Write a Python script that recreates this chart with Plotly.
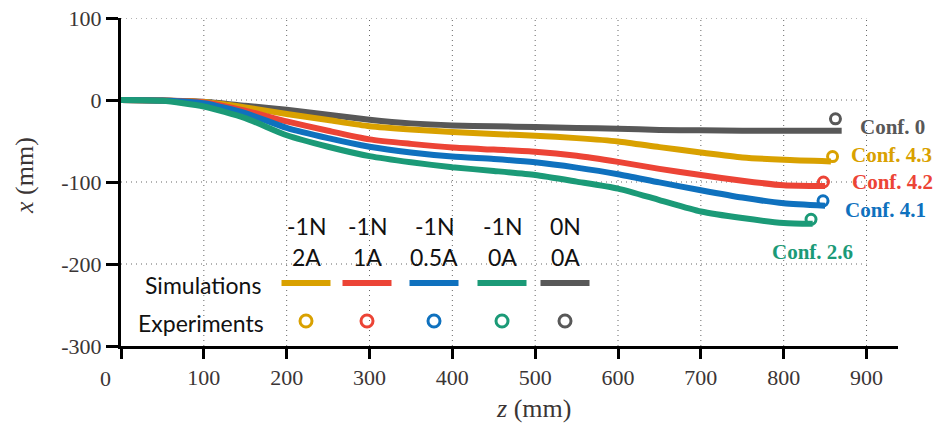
import plotly.graph_objects as go

# ---------------- data ----------------
z_grid = [0, 50, 100, 150, 200, 250, 300, 350, 400, 450, 500, 550, 600, 650, 700, 750, 800]

sim_gray_z = z_grid + [870]
sim_gray_x = [0, -0.5, -2, -7, -12, -18, -24, -28.5, -31, -32, -33, -34, -35, -36.5, -37, -37.5, -37.5, -37.5]

sim_gold_z = z_grid + [857]
sim_gold_x = [0, -0.5, -2.5, -9, -17, -24.5, -32, -36, -39, -41.5, -43.5, -46.5, -50.5, -57.5, -64, -70, -73, -75]

sim_red_z = z_grid + [850]
sim_red_x = [0, -0.5, -3, -13, -26, -37.5, -48, -53.5, -58, -60.5, -63, -68, -75.5, -84, -91.5, -98.5, -104, -105]

sim_blue_z = z_grid + [850]
sim_blue_x = [0, -0.7, -4, -16, -34, -46.5, -57, -64, -69, -72, -76, -82.5, -90.5, -100.5, -110, -119, -126, -129]

sim_green_z = z_grid + [835]
sim_green_x = [0, -1, -8, -22, -43, -57, -68.5, -76, -82, -86.5, -91.5, -99.5, -108, -122, -136, -144, -150, -151]

# experiments (gray, gold, red, blue, green)
exp_z = [862.5, 859, 848, 847.5, 833]
exp_x = [-23, -69, -100, -123, -145.5]

conf_labels = ["Conf. 0", "Conf. 4.3", "Conf. 4.2", "Conf. 4.1", "Conf. 2.6"]

legend_force = ["-1N", "-1N", "-1N", "-1N", "0N"]
legend_current = ["2A", "1A", "0.5A", "0A", "0A"]

x_ticks = [0, 100, 200, 300, 400, 500, 600, 700, 800, 900]
y_ticks = [-300, -200, -100, 0, 100]
y_ticktext = ["-300", "-200", "-100", "0", "100"]

# ---------------- styles ----------------
GRAY = "#585858"
GOLD = "#D9A100"
RED = "#EC4436"
BLUE = "#0F71BE"
GREEN = "#1B9A77"
colors = [GRAY, GOLD, RED, BLUE, GREEN]

W, H = 936, 426
ML, MR, MT, MB = 121, 38, 18, 80
XR = [0, 938]
YR = [-300, 100]
PW = W - ML - MR
PH = H - MT - MB


def px2x(px):
    return XR[0] + (px - ML) / PW * (XR[1] - XR[0])


def py2y(py):
    return YR[1] - (py - MT) / PH * (YR[1] - YR[0])


fig = go.Figure()

sims = [
    (sim_gray_z, sim_gray_x, GRAY),
    (sim_gold_z, sim_gold_x, GOLD),
    (sim_red_z, sim_red_x, RED),
    (sim_blue_z, sim_blue_x, BLUE),
    (sim_green_z, sim_green_x, GREEN),
]
for zz, xx, c in sims:
    fig.add_trace(go.Scatter(x=zz, y=xx, mode="lines",
                             line=dict(color=c, width=6, shape="spline", smoothing=0.6),
                             showlegend=False, hoverinfo="skip"))

fig.add_trace(go.Scatter(x=exp_z, y=exp_x, mode="markers",
                         marker=dict(symbol="circle-open", size=10, color=colors,
                                     line=dict(width=3, color=colors)),
                         showlegend=False, hoverinfo="skip", cliponaxis=False))

shapes = []
grid_line = dict(color="#666666", width=1, dash="1px,4px")
for yv in [100, 0, -100, -200]:
    shapes.append(dict(type="line", xref="x", yref="y", x0=0, x1=900, y0=yv, y1=yv,
                       line=grid_line, layer="below"))
for xv in x_ticks[1:]:
    shapes.append(dict(type="line", xref="x", yref="y", x0=xv, x1=xv, y0=-300, y1=100,
                       line=grid_line, layer="below"))

# custom legend
leg_cols_px = [306, 367, 434, 502, 565]
leg_colors = [GOLD, RED, BLUE, GREEN, GRAY]
annotations = []
sans = "Lato"
SANS_SIZE = 23
for cpx, col, f, a in zip(leg_cols_px, leg_colors, legend_force, legend_current):
    shapes.append(dict(type="line", xref="x", yref="y",
                       x0=px2x(cpx - 24.5), x1=px2x(cpx + 24.5), y0=py2y(283), y1=py2y(283),
                       line=dict(color=col, width=6)))
    shapes.append(dict(type="circle", xref="x", yref="y", xsizemode="pixel", ysizemode="pixel",
                       xanchor=px2x(cpx), yanchor=py2y(321), x0=-6, x1=6, y0=-6, y1=6,
                       line=dict(color=col, width=3)))
    annotations.append(dict(x=px2x(cpx), y=py2y(226), xref="x", yref="y", text=f, showarrow=False,
                            xanchor="center", yanchor="middle",
                            font=dict(family=sans, size=SANS_SIZE, color="#111111")))
    annotations.append(dict(x=px2x(cpx), y=py2y(257), xref="x", yref="y", text=a, showarrow=False,
                            xanchor="center", yanchor="middle",
                            font=dict(family=sans, size=SANS_SIZE, color="#111111")))

annotations.append(dict(x=px2x(203), y=py2y(285), xref="x", yref="y", text="Simulations",
                        showarrow=False, xanchor="center", yanchor="middle",
                        font=dict(family=sans, size=SANS_SIZE, color="#111111")))
annotations.append(dict(x=px2x(201), y=py2y(323), xref="x", yref="y", text="Experiments",
                        showarrow=False, xanchor="center", yanchor="middle",
                        font=dict(family=sans, size=SANS_SIZE, color="#111111")))

# configuration labels
conf_pos = [(858, 127), (849, 155), (850, 182), (843, 210), (770, 252)]
for lab, (lx, ly), c in zip(conf_labels, conf_pos, colors):
    annotations.append(dict(x=px2x(lx), y=py2y(ly), xref="x", yref="y", text="<b>" + lab + "</b>",
                            showarrow=False, xanchor="left", yanchor="middle",
                            font=dict(family="Liberation Serif", size=21, color=c)))

serif = "Liberation Serif"
TICK_SIZE = 22
# x-axis "0" label (offset left of the axis)
annotations.append(dict(x=(105 - ML) / PW, y=(MT + PH - 378) / PH, xref="paper", yref="paper",
                        text="0", showarrow=False, xanchor="center", yanchor="middle",
                        font=dict(family=serif, size=TICK_SIZE, color="#3b3535")))
# axis titles
annotations.append(dict(x=(533 - ML) / PW, y=(MT + PH - 408) / PH, xref="paper", yref="paper",
                        text="<i>z</i> (mm)", showarrow=False, xanchor="center", yanchor="middle",
                        font=dict(family=serif, size=26, color="#3b3535")))
annotations.append(dict(x=(24 - ML) / PW, y=(MT + PH - 176) / PH, xref="paper", yref="paper",
                        text="<i>x</i> (mm)", showarrow=False, xanchor="center", yanchor="middle",
                        textangle=-90, font=dict(family=serif, size=26, color="#3b3535")))

fig.update_layout(
    width=W, height=H,
    margin=dict(l=ML, r=MR, t=MT, b=MB, autoexpand=False),
    paper_bgcolor="white", plot_bgcolor="white",
    shapes=shapes, annotations=annotations,
    xaxis=dict(range=XR, tickvals=x_ticks, ticktext=[""] + [str(v) for v in x_ticks[1:]],
               ticks="outside", ticklen=10, tickwidth=3, tickcolor="black", automargin=False,
               showline=True, linewidth=3, linecolor="black", showgrid=False, zeroline=False,
               tickfont=dict(family=serif, size=TICK_SIZE, color="#3b3535")),
    yaxis=dict(range=YR, tickvals=y_ticks, ticktext=y_ticktext, automargin=False,
               ticks="outside", ticklen=12, tickwidth=3,
               tickcolor="black", showline=True, linewidth=3, linecolor="black",
               showgrid=False, zeroline=False,
               tickfont=dict(family=serif, size=TICK_SIZE, color="#3b3535")),
)

fig.write_html("out.html", config={"displayModeBar": False},
               post_script="document.body.style.margin='0';document.body.style.overflow='hidden';")
